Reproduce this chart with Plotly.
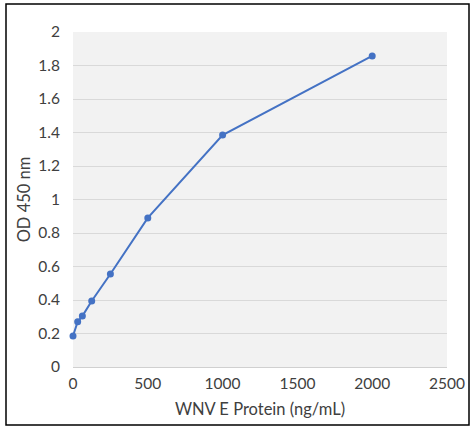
import plotly.graph_objects as go

conc = [0, 31.25, 62.5, 125, 250, 500, 1000, 2000]
od450 = [0.185, 0.27, 0.304, 0.394, 0.555, 0.89, 1.385, 1.857]

W, H = 475, 429
ml, mr, mt, mb = 73, 28, 32, 62

fig = go.Figure()
fig.add_trace(go.Scatter(
    x=conc, y=od450, mode="lines+markers",
    line=dict(color="#4472C4", width=2),
    marker=dict(color="#4472C4", size=7),
    cliponaxis=False,
    showlegend=False,
))

pw = W - ml - mr
ph = H - mt - mb
fig.add_shape(type="rect", xref="paper", yref="paper",
              x0=(6 - ml) / pw, x1=(469 - ml) / pw,
              y0=(H - mb - 425) / ph, y1=(H - mb - 4) / ph,
              line=dict(color="black", width=1.5), fillcolor="rgba(0,0,0,0)",
              layer="below")

font = "Lato, 'Open Sans', sans-serif"
fig.update_layout(
    width=W, height=H,
    margin=dict(l=ml, r=mr, t=mt, b=mb, autoexpand=False),
    paper_bgcolor="white",
    plot_bgcolor="#f2f2f2",
    font=dict(family=font, size=15.5, color="#404040"),
    xaxis=dict(range=[0, 2500], tickvals=[0, 500, 1000, 1500, 2000, 2500],
               showgrid=False, zeroline=False, showline=False, ticks="",
               ticklabelstandoff=5,
               title=dict(text="WNV E Protein (ng/mL)", font=dict(size=16.5, color="#404040"), standoff=12)),
    yaxis=dict(range=[0, 2], tickvals=[0, 0.2, 0.4, 0.6, 0.8, 1, 1.2, 1.4, 1.6, 1.8, 2],
               ticktext=["0", "0.2", "0.4", "0.6", "0.8", "1", "1.2", "1.4", "1.6", "1.8", "2"],
               showgrid=True, gridcolor="#d9d9d9", gridwidth=1,
               zeroline=True, zerolinecolor="#d0d0d0", zerolinewidth=1,
               showline=False, ticks="", ticklabelstandoff=12,
               title=dict(text="OD 450 nm", font=dict(size=16.5, color="#404040"), standoff=3)),
)

fig.write_html("out.html", config={"displayModeBar": False},
               post_script="document.body.style.margin='0';")
